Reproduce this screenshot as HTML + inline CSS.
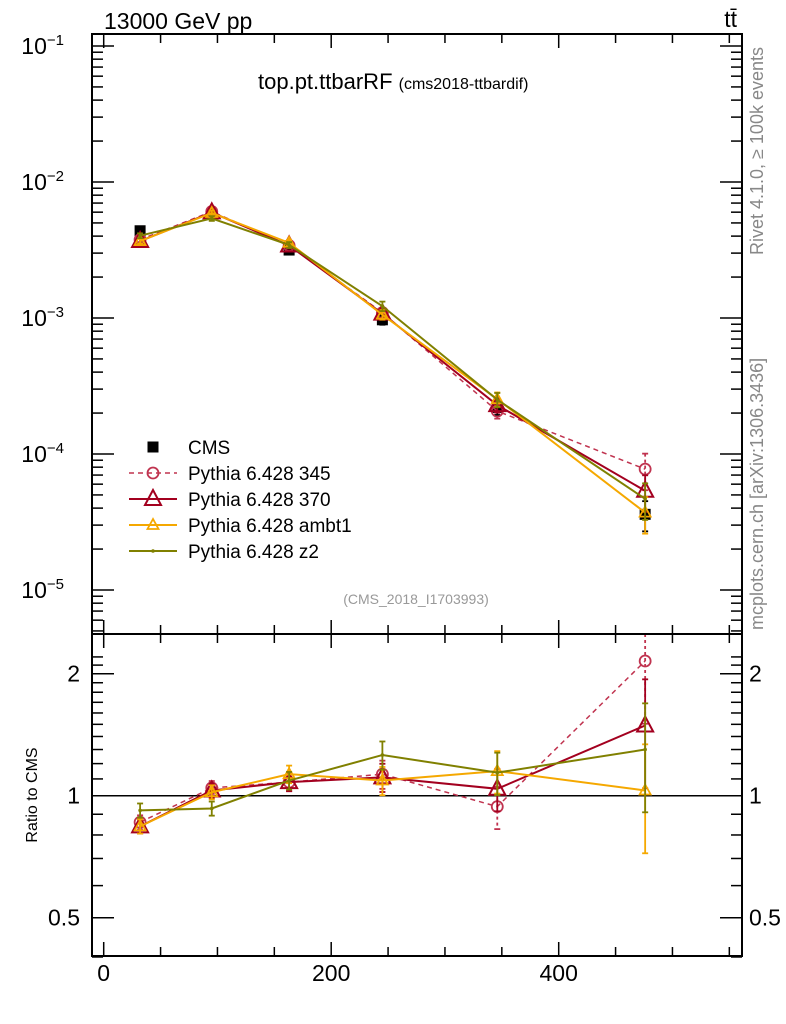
<!DOCTYPE html>
<html><head><meta charset="utf-8"><style>
html,body{margin:0;padding:0;background:#fff}
svg{display:block;font-family:"Liberation Sans",sans-serif}
</style></head><body>
<svg id="chart" width="786" height="1024" viewBox="0 0 786 1024" xmlns="http://www.w3.org/2000/svg">
<g id="ticks"></g>
<g id="marks"></g>
<rect x="92" y="34" width="650" height="600" fill="none" stroke="#000" stroke-width="2"/>
<rect x="92" y="634" width="650" height="322" fill="none" stroke="#000" stroke-width="2"/>
<text x="104" y="29" font-size="23">13000 GeV pp</text>
<text x="737" y="27" font-size="23" text-anchor="end">tt̄</text>
<text x="258" y="89" font-size="22">top.pt.ttbarRF <tspan font-size="16">(cms2018-ttbardif)</tspan></text>
<text x="416" y="604" font-size="14" fill="#999" text-anchor="middle">(CMS_2018_I1703993)</text>
<text transform="translate(763,255) rotate(-90)" font-size="18" fill="#888">Rivet 4.1.0, ≥ 100k events</text>
<text transform="translate(763,630) rotate(-90)" font-size="18" fill="#888">mcplots.cern.ch [arXiv:1306.3436]</text>
<text transform="translate(37,795) rotate(-90)" font-size="16" text-anchor="middle">Ratio to CMS</text>
<g id="legend"></g>
</svg>
<script>
const xValues = [32, 95, 163, 245, 346, 476];
const cmsValues = [4.38e-3, 5.8e-3, 3.16e-3, 9.7e-4, 2.2e-4, 3.6e-5];
const cmsErrFrac = [0.05, 0.04, 0.05, 0.08, 0.12, 0.25];
const seriesNames = ["Pythia 6.428 345", "Pythia 6.428 370", "Pythia 6.428 ambt1", "Pythia 6.428 z2"];
const ratio345 = [0.86, 1.045, 1.08, 1.13, 0.94, 2.15];
const ratio370 = [0.84, 1.03, 1.08, 1.11, 1.04, 1.49];
const ratioAmbt1 = [0.84, 1.02, 1.13, 1.09, 1.15, 1.03];
const ratioZ2 = [0.92, 0.93, 1.09, 1.26, 1.14, 1.30];
const mcErrFrac = [0.04, 0.04, 0.05, 0.08, 0.12, 0.3];
const xTicks = [0, 200, 400];
const mainTickLabels = ["10","10","10","10","10"];
const mainTickExps = [-1, -2, -3, -4, -5];
const ratioTicks = [0.5, 1, 2];

const NS = "http://www.w3.org/2000/svg";
const X0 = 92, X1 = 742, MT = 34, MB = 634, RB = 956;
const xs = v => 103.7 + v * 1.1375;
const ym = v => 182 - (Math.log10(v) + 2) * 136;
const yr = v => 795.7 - Math.log2(v) * 122;
const T = document.getElementById("ticks"), M = document.getElementById("marks"), L = document.getElementById("legend");
function mk(tag, attrs, parent) { const e = document.createElementNS(NS, tag); for (const k in attrs) e.setAttribute(k, attrs[k]); parent.appendChild(e); return e; }
function line(x1,y1,x2,y2,p,st,w,dash){ const e=mk("line",{x1,y1,x2,y2,stroke:st||"#000","stroke-width":w||1.5},p); if(dash) e.setAttribute("stroke-dasharray",dash); return e; }

for (let v = 0; v <= 550; v += 50) {
  const x = xs(v), big = v % 200 === 0, len = big ? 14 : 9;
  [MT, MB].forEach(y => line(x, y, x, y + len, T));
  [MB, RB].forEach(y => line(x, y, x, y - len, T));
}
xTicks.forEach(v => {
  const t = mk("text", {x: xs(v), y: 981, "font-size": 23, "text-anchor": "middle"}, T);
  
  
  t.textContent = v;
});
for (let e = -6; e <= -1; e++) for (let m = 1; m <= 9; m++) {
  const v = m * Math.pow(10, e), y = ym(v);
  if (y < MT || y > MB) continue;
  const len = m === 1 ? 22 : 11;
  line(X0, y, X0 + len, y, T); line(X1, y, X1 - len, y, T);
}
mainTickExps.forEach((e, i) => {
  const y = ym(Math.pow(10, e));
  const t = mk("text", {x: 64, y: y + 8, "font-size": 23, "text-anchor": "end"}, T);
  
  
  t.textContent = mainTickLabels[i];
  const s = mk("tspan", {dy: -9, "font-size": 15}, t); s.textContent = "−" + (-e);
});
for (let v = 0.4; v <= 2.25; v += 0.1) {
  const r = Math.round(v * 10) / 10, y = yr(r);
  const big = ratioTicks.includes(r), len = big ? 22 : 11;
  line(X0, y, X0 + len, y, T); line(X1, y, X1 - len, y, T);
}
ratioTicks.forEach(v => {
  const y = yr(v);
  const a = mk("text", {x: 80, y: y + 8, "font-size": 23, "text-anchor": "end"}, T);
  
  
  a.textContent = v;
  const b = mk("text", {x: 749, y: y + 8, "font-size": 23}, T);
  
  
  b.textContent = v;
});
line(X0, yr(1), X1, yr(1), M, "#000", 1.5);

const series = [
  {r: ratio345, c: "#c0334f", dash: "5,4", mark: "circle", w: 1.5},
  {r: ratio370, c: "#a3001f", dash: null, mark: "tri", w: 2},
  {r: ratioAmbt1, c: "#f5a800", dash: null, mark: "tri-s", w: 2},
  {r: ratioZ2, c: "#808000", dash: null, mark: "dot", w: 2}
];
function marker(kind, x, y, c, p) {
  let e;
  if (kind === "circle") e = mk("circle", {cx: x, cy: y, r: 5.5, fill: "none", stroke: c, "stroke-width": 1.8}, p);
  else if (kind === "tri") e = mk("polygon", {points: `${x},${y-9} ${x-8},${y+6} ${x+8},${y+6}`, fill: "none", stroke: c, "stroke-width": 2}, p);
  else if (kind === "tri-s") e = mk("polygon", {points: `${x},${y-6} ${x-5.5},${y+4} ${x+5.5},${y+4}`, fill: "none", stroke: c, "stroke-width": 1.8}, p);
  else if (kind === "dot") e = mk("circle", {cx: x, cy: y, r: 1.8, fill: c}, p);
  else e = mk("rect", {x: x - 5.5, y: y - 5.5, width: 11, height: 11, fill: "#000"}, p);
  return e;
}
function errbar(x, y1, y2, c, p, dash) {
  line(x, y1, x, y2, p, c, 1.8, dash);
  line(x - 3, y1, x + 3, y1, p, c, 1.8); line(x - 3, y2, x + 3, y2, p, c, 1.8);
}
xValues.forEach((xv, i) => {
  const x = xs(xv), v = cmsValues[i];
  errbar(x, ym(v * (1 + cmsErrFrac[i])), ym(v * (1 - cmsErrFrac[i])), "#000", M);
  const m = marker("sq", x, ym(v), "#000", M);
  
  
});
series.forEach((s, si) => {
  const gm = mk("g", {}, M), gr = mk("g", {}, M);
  
  
  
  
  const pm = xValues.map((xv, i) => `${xs(xv)},${ym(cmsValues[i] * s.r[i])}`).join(" ");
  const pr = xValues.map((xv, i) => `${xs(xv)},${Math.max(MB, yr(s.r[i]))}`).join(" ");
  const a = mk("polyline", {points: pm, fill: "none", stroke: s.c, "stroke-width": s.w}, gm);
  const b = mk("polyline", {points: pr, fill: "none", stroke: s.c, "stroke-width": s.w}, gr);
  if (s.dash) { a.setAttribute("stroke-dasharray", s.dash); b.setAttribute("stroke-dasharray", s.dash); }
  xValues.forEach((xv, i) => {
    const x = xs(xv), v = cmsValues[i] * s.r[i], f = mcErrFrac[i];
    errbar(x, ym(v * (1 + f)), ym(v * (1 - f)), s.c, gm, s.dash ? "3,3" : null);
    errbar(x, Math.max(MB, yr(s.r[i] * (1 + f))), yr(s.r[i] * (1 - f)), s.c, gr, s.dash ? "3,3" : null);
    marker(s.mark, x, ym(v), s.c, gm);
    marker(s.mark, x, yr(s.r[i]), s.c, gr);
  });
});
const ly = [447, 473, 499, 525, 551];
const cm = marker("sq", 153, ly[0], "#000", L);
const ct = mk("text", {x: 188, y: ly[0] + 7, "font-size": 19}, L); ct.textContent = "CMS";


series.forEach((s, i) => {
  const y = ly[i + 1];
  line(129, y, 177, y, L, s.c, s.w, s.dash);
  marker(s.mark, 153, y, s.c, L);
  const t = mk("text", {x: 188, y: y + 7, "font-size": 19}, L);
  
  
  t.textContent = seriesNames[i];
});
</script>
</body></html>
